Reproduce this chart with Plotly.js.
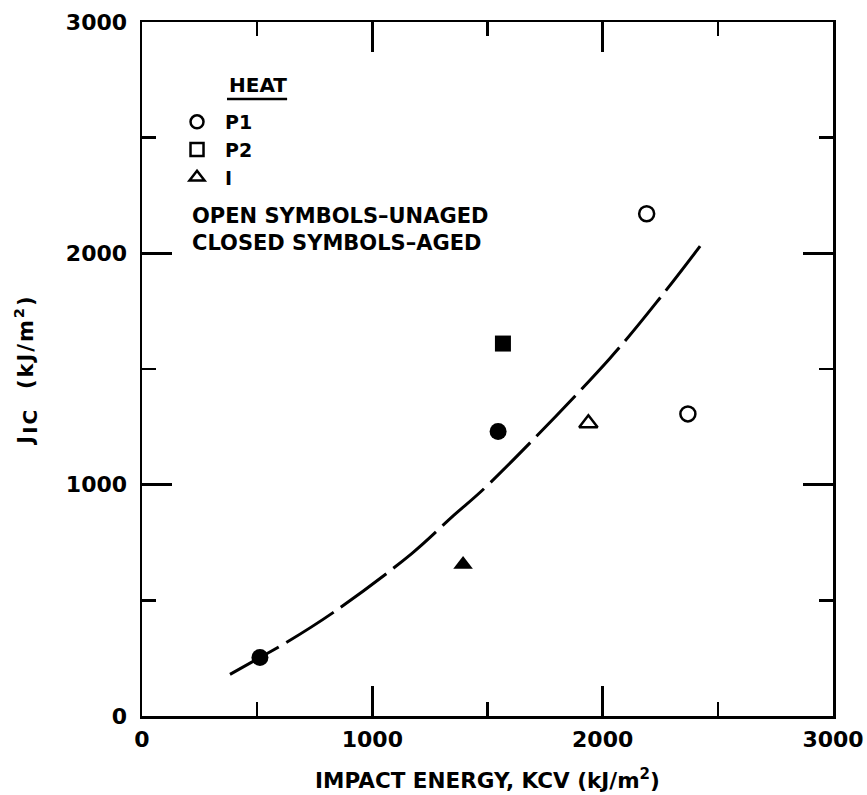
<!DOCTYPE html>
<html>
<head>
<meta charset="utf-8">
<script src="https://cdn.plot.ly/plotly-3.0.1.min.js"></script>
<style>html,body{margin:0;padding:0;background:#fff;}#chart{width:867px;height:795px;}</style>
</head>
<body>
<div id="chart"></div>
<script>
// Data
const p1AgedX = [512, 1546];
const p1AgedY = [253, 1230];
const p1UnagedX = [2191, 2370];
const p1UnagedY = [2171, 1306];
const p2AgedX = [1567];
const p2AgedY = [1610];
const iUnagedX = [1938];
const iUnagedY = [1265];
const iAgedX = [1394];
const iAgedY = [655];
const curveX = [382, 512, 607, 831, 1171, 1352, 1497, 2032, 2264, 2423];
const curveY = [180, 253, 306, 448, 702, 866, 994, 1547, 1826, 2031];
const legendNames = ['P1', 'P2', 'I'];
const tickVals = [0, 1000, 2000, 3000];
const tickText = ['0', '1000', '2000', '3000'];

const FAM = 'DejaVu Sans, sans-serif';
const BLACK = '#000';
function f(size) { return {family: FAM, size: size, color: BLACK, weight: 'bold'}; }

const traces = [
  {x: curveX, y: curveY, mode: 'lines', line: {shape: 'spline', smoothing: 1, color: BLACK, width: 3, dash: '56px,9px'}, showlegend: false, hoverinfo: 'skip'},
  {x: p1AgedX, y: p1AgedY, mode: 'markers', marker: {symbol: 'circle', size: 17, color: BLACK}, showlegend: false},
  {x: p1UnagedX, y: p1UnagedY, mode: 'markers', marker: {symbol: 'circle-open', size: 15, color: BLACK, line: {width: 2.5, color: BLACK}}, showlegend: false},
  {x: p2AgedX, y: p2AgedY, mode: 'markers', marker: {symbol: 'square', size: 16, color: BLACK}, showlegend: false},
  {x: iUnagedX, y: iUnagedY, mode: 'markers', marker: {symbol: 'triangle-up-open', size: 16, color: BLACK, line: {width: 2.5, color: BLACK}}, showlegend: false},
  {x: iAgedX, y: iAgedY, mode: 'markers', marker: {symbol: 'triangle-up', size: 17, color: BLACK}, showlegend: false},
  // legend entries (open symbols)
  {x: [null], y: [null], mode: 'markers', name: legendNames[0], marker: {symbol: 'circle-open', size: 13, color: BLACK, line: {width: 2.5, color: BLACK}}},
  {x: [null], y: [null], mode: 'markers', name: legendNames[1], marker: {symbol: 'square-open', size: 13, color: BLACK, line: {width: 2.5, color: BLACK}}},
  {x: [null], y: [null], mode: 'markers', name: legendNames[2], marker: {symbol: 'triangle-up-open', size: 13, color: BLACK, line: {width: 2.5, color: BLACK}}}
];

const axisCommon = {
  range: [0, 3000],
  tickvals: tickVals,
  ticktext: tickText,
  ticks: 'inside',
  ticklen: 30,
  tickwidth: 2.5,
  tickcolor: BLACK,
  showline: true,
  linewidth: 2.5,
  linecolor: BLACK,
  mirror: 'ticks',
  showgrid: false,
  zeroline: false,
  tickfont: f(22),
  minor: {dtick: 500, ticks: 'inside', ticklen: 14, tickwidth: 2.5, tickcolor: BLACK, showgrid: false}
};

const layout = {
  width: 867,
  height: 795,
  margin: {l: 142, r: 34, t: 22, b: 79},
  paper_bgcolor: '#fff',
  plot_bgcolor: '#fff',
  font: f(20),
  xaxis: Object.assign({}, axisCommon, {
    ticklabelstandoff: 2,
    title: {text: 'IMPACT ENERGY, KCV (kJ/m<sup>2</sup>)', font: f(21.5), standoff: 22}
  }),
  yaxis: Object.assign({}, axisCommon, {
    ticklabelstandoff: 8,
    title: {text: '<span style="letter-spacing:2px">J<sub><span style="font-size:20px">IC</span></sub>  (kJ/m<sup>2</sup>)</span>', font: f(21), standoff: 27}
  }),
  showlegend: true,
  legend: {
    x: 0.0391, y: 0.8833, xanchor: 'left', yanchor: 'top',
    bgcolor: 'rgba(0,0,0,0)', borderwidth: 0,
    itemwidth: 46,
    font: f(19),
    tracegroupgap: 0
  },
  annotations: [
    {xref: 'paper', yref: 'paper', x: 0.123, y: 0.909, xanchor: 'left', yanchor: 'middle', showarrow: false,
     text: 'HEAT', font: f(20)},
    {xref: 'paper', yref: 'paper', x: 0.0695, y: 0.7017, xanchor: 'left', yanchor: 'middle', align: 'left', showarrow: false,
     text: 'OPEN SYMBOLS–UNAGED<br>CLOSED SYMBOLS–AGED', font: f(21)}
  ],
  shapes: [
    {type: 'line', xref: 'paper', yref: 'paper', x0: 0.123, x1: 0.210, y0: 0.889, y1: 0.889, line: {color: BLACK, width: 2.5}}
  ]
};

Plotly.newPlot('chart', traces, layout, {displayModeBar: false, staticPlot: true});
</script>
</body>
</html>
